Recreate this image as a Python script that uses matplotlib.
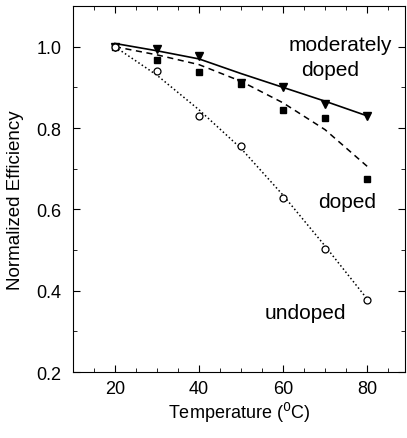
import matplotlib
matplotlib.use("Agg")
import matplotlib.pyplot as plt
from matplotlib.ticker import MultipleLocator

plt.rcParams['font.family'] = ['Liberation Sans', 'DejaVu Sans']

temps = [20, 30, 40, 50, 60, 70, 80]
mod_doped = [1.0, 0.995, 0.978, 0.91, 0.90, 0.858, 0.83]
doped = [1.0, 0.968, 0.938, 0.908, 0.845, 0.825, 0.676]
undoped = [1.0, 0.94, 0.83, 0.755, 0.629, 0.502, 0.377]

fit_t = [20, 30, 40, 50, 60, 70, 80]
fit_mod = [1.008, 0.99, 0.97, 0.934, 0.90, 0.866, 0.83]
fit_doped = [1.0, 0.98, 0.956, 0.915, 0.862, 0.796, 0.706]
fit_undoped = [1.0, 0.93, 0.845, 0.75, 0.635, 0.51, 0.38]

fig = plt.figure(figsize=(4.07, 4.39), dpi=100)
ax = fig.add_axes([0.179, 0.150, 0.816, 0.834])

ax.plot(fit_t, fit_mod, '-', color='black', lw=1.2)
ax.plot(fit_t, fit_doped, '--', color='black', lw=1.1, dashes=(4, 3))
ax.plot(fit_t, fit_undoped, ':', color='black', lw=1.1)

ax.plot(temps, mod_doped, 'v', color='black', ms=6, ls='none')
ax.plot(temps, doped, 's', color='black', ms=5, ls='none')
ax.plot(temps, undoped, 'o', mfc='white', mec='black', ms=5, mew=0.9, ls='none')

ax.set_xlim(10, 89)
ax.set_ylim(0.2, 1.1)
ax.xaxis.set_major_locator(MultipleLocator(20))
ax.xaxis.set_minor_locator(MultipleLocator(5))
ax.yaxis.set_major_locator(MultipleLocator(0.2))
ax.yaxis.set_minor_locator(MultipleLocator(0.1))
ax.tick_params(which='both', direction='in', top=True, right=True, labelsize=13)
ax.tick_params(which='major', length=5)
ax.tick_params(which='minor', length=3)
ax.tick_params(axis='y', which='major', pad=8)
ax.tick_params(axis='x', which='major', pad=6)
ax.set_yticks([0.2, 0.4, 0.6, 0.8, 1.0])
ax.set_yticklabels(['0.2', '0.4', '0.6', '0.8', '1.0'])

ax.set_xlabel('Temperature ($^{0}$C)', fontsize=13, labelpad=2)
ax.set_ylabel('Normalized Efficiency', fontsize=13.5)
ax.yaxis.set_label_coords(-0.148, 0.473)

ax.text(73.6, 1.005, 'moderately', ha='center', va='center', fontsize=15)
ax.text(71.2, 0.944, 'doped', ha='center', va='center', fontsize=15)
ax.text(75.2, 0.62, 'doped', ha='center', va='center', fontsize=15)
ax.text(65.4, 0.347, 'undoped', ha='center', va='center', fontsize=15)

fig.savefig('out.png', dpi=100)
